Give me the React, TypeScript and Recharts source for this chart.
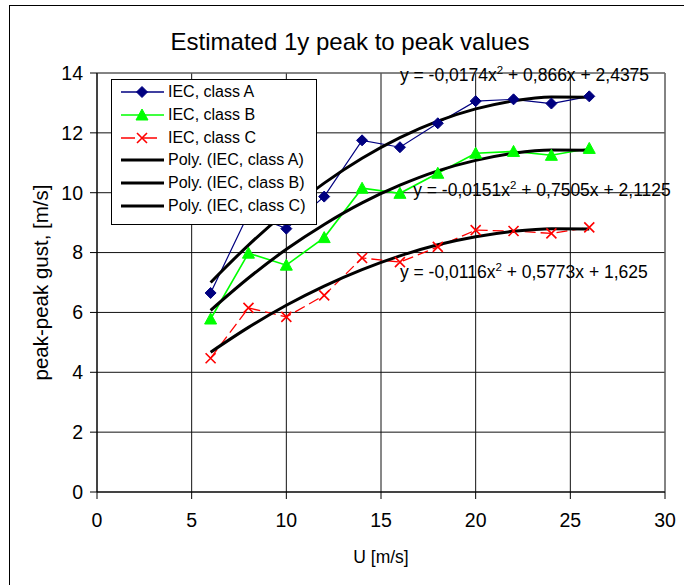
import React from 'react';
import {
  LineChart, Line, XAxis, YAxis, CartesianGrid, ReferenceLine, ReferenceDot, Label,
} from 'recharts';

const windSpeeds = [6, 8, 10, 12, 14, 16, 18, 20, 22, 24, 26];
const classA = [6.65, 9.3, 8.8, 9.87, 11.75, 11.52, 12.32, 13.06, 13.12, 12.98, 13.22];
const classB = [5.78, 7.98, 7.58, 8.5, 10.15, 9.98, 10.65, 11.32, 11.38, 11.25, 11.48];
const classC = [4.47, 6.15, 5.85, 6.57, 7.82, 7.68, 8.19, 8.75, 8.72, 8.64, 8.84];
const polyA = [7.0, 8.25, 9.36, 10.32, 11.15, 11.84, 12.39, 12.8, 13.07, 13.2, 13.19];
const polyB = [6.07, 7.15, 8.11, 8.94, 9.66, 10.25, 10.73, 11.08, 11.32, 11.43, 11.42];
const polyC = [4.67, 5.5, 6.24, 6.88, 7.43, 7.89, 8.26, 8.53, 8.71, 8.8, 8.79];

const xTicks = [0, 5, 10, 15, 20, 25, 30];
const yTicks = [0, 2, 4, 6, 8, 10, 12, 14];

const seriesNames = [
  'IEC, class A', 'IEC, class B', 'IEC, class C',
  'Poly. (IEC, class A)', 'Poly. (IEC, class B)', 'Poly. (IEC, class C)',
];

// trendline equations: [before superscript, after superscript], anchor in data coords
const equations = [
  { pre: 'y = -0,0174x', post: ' + 0,866x + 2,4375', x: 16, y: 13.93 },
  { pre: 'y = -0,0151x', post: ' + 0,7505x + 2,1125', x: 16.7, y: 10.09 },
  { pre: 'y = -0,0116x', post: ' + 0,5773x + 1,625', x: 16, y: 7.35 },
];

const data = windSpeeds.map((u, i) => ({
  u, a: classA[i], b: classB[i], c: classC[i], pa: polyA[i], pb: polyB[i], pc: polyC[i],
}));

const FONT = '"Liberation Sans", Arial, sans-serif';
const BLUE = '#000080';
const GREEN = '#00FF00';
const RED = '#FF0000';

const Diamond = ({ cx, cy }: { cx: number; cy: number }) => (
  <path d={`M${cx},${cy - 5.5}L${cx + 5.5},${cy}L${cx},${cy + 5.5}L${cx - 5.5},${cy}Z`} fill={BLUE} stroke={BLUE} />
);
const Triangle = ({ cx, cy }: { cx: number; cy: number }) => (
  <path d={`M${cx},${cy - 6}L${cx + 6},${cy + 5}L${cx - 6},${cy + 5}Z`} fill={GREEN} stroke={GREEN} />
);
const Cross = ({ cx, cy }: { cx: number; cy: number }) => (
  <path d={`M${cx - 5},${cy - 5}L${cx + 5},${cy + 5}M${cx + 5},${cy - 5}L${cx - 5},${cy + 5}`}
    stroke={RED} strokeWidth={1.6} fill="none" strokeDasharray="none" />
);

const dotFn = (Shape: any) => (p: any) => <Shape key={`d-${p.index}`} cx={p.cx} cy={p.cy} />;

const EqText = ({ viewBox, pre, post }: any) => (
  <text x={viewBox.x} y={viewBox.y + 6} fontFamily={FONT} fontSize={17.5} fill="#000">
    {pre}
    <tspan fontSize={11.5} dy={-7}>2</tspan>
    <tspan dy={7}>{post}</tspan>
  </text>
);

const YTitle = ({ viewBox }: any) => (
  <text
    x={40.5}
    y={viewBox.y + viewBox.height / 2}
    transform={`rotate(-90 40.5 ${viewBox.y + viewBox.height / 2})`}
    textAnchor="middle"
    dominantBaseline="central"
    fontFamily={FONT}
    fontSize={20.5}
    fill="#000"
  >
    peak-peak gust, [m/s]
  </text>
);

function LegendBox() {
  const marks = [
    <Diamond cx={22} cy={11} />,
    <Triangle cx={22} cy={11} />,
    <Cross cx={22} cy={11} />,
  ];
  const strokes = [BLUE, GREEN, RED];
  return (
    <div style={{
      position: 'absolute', left: 111, top: 79, width: 204, height: 144,
      border: '1px solid #000', background: '#fff', fontFamily: FONT, fontSize: 16,
    }}>
      {seriesNames.map((name, i) => (
        <div key={name} style={{ position: 'absolute', left: 8, top: 1 + i * 22.8, height: 22, display: 'flex', alignItems: 'center' }}>
          <svg width={46} height={22} style={{ display: 'block' }}>
            {i < 3 ? (
              <>
                <line x1={1} y1={11} x2={44} y2={11} stroke={strokes[i]} strokeWidth={1.5}
                  strokeDasharray={i === 2 ? '14 8' : undefined} />
                {marks[i]}
              </>
            ) : (
              <line x1={1} y1={11} x2={44} y2={11} stroke="#000" strokeWidth={3} />
            )}
          </svg>
          <span style={{ marginLeft: 2, whiteSpace: 'nowrap' }}>{name}</span>
        </div>
      ))}
    </div>
  );
}

export default function App() {
  return (
    <div style={{ position: 'absolute', left: 0, top: 0, width: 684, height: 585, overflow: 'hidden', background: '#fff' }}>
      <div style={{ position: 'absolute', left: 9, top: 5, width: 700, height: 600, borderLeft: '1px solid #000', borderTop: '1px solid #000' }} />
      <div style={{
        position: 'absolute', left: 0, width: 700, top: 28, textAlign: 'center',
        fontFamily: FONT, fontSize: 24, color: '#000', whiteSpace: 'nowrap',
      }}>
        Estimated 1y peak to peak values
      </div>
      <div style={{ position: 'absolute', left: 0, top: 0 }}>
        <LineChart width={684} height={585} data={data} margin={{ top: 73, right: 19, bottom: 0, left: 0 }}>
          <CartesianGrid stroke="#111" strokeWidth={1} />
          <XAxis
            type="number" dataKey="u" domain={[0, 30]} ticks={xTicks} height={93}
            axisLine={{ stroke: '#000' }} tickLine={{ stroke: '#000' }} tickSize={7} tickMargin={14}
            tick={{ fontSize: 19.5, fill: '#000', fontFamily: FONT }} interval={0}
          >
            <Label value="U [m/s]" position="insideBottom" offset={22}
              style={{ fontSize: 17.5, fill: '#000', fontFamily: FONT }} />
          </XAxis>
          <YAxis
            type="number" domain={[0, 14]} ticks={yTicks} width={97}
            axisLine={{ stroke: '#000' }} tickLine={{ stroke: '#000' }} tickSize={7} tickMargin={7}
            tick={{ fontSize: 19.5, fill: '#000', fontFamily: FONT }} interval={0}
          >
            <Label content={<YTitle />} />
          </YAxis>
          <ReferenceLine x={30} stroke="#808080" />
          <ReferenceLine y={14} stroke="#808080" />
          <Line dataKey="a" stroke={BLUE} strokeWidth={1.2} dot={dotFn(Diamond)} activeDot={false} isAnimationActive={false} />
          <Line dataKey="b" stroke={GREEN} strokeWidth={1.6} dot={dotFn(Triangle)} activeDot={false} isAnimationActive={false} />
          <Line dataKey="c" stroke={RED} strokeWidth={1.3} strokeDasharray="11 5" dot={dotFn(Cross)} activeDot={false} isAnimationActive={false} />
          <Line dataKey="pa" type="monotone" stroke="#000" strokeWidth={3} dot={false} activeDot={false} isAnimationActive={false} />
          <Line dataKey="pb" type="monotone" stroke="#000" strokeWidth={3} dot={false} activeDot={false} isAnimationActive={false} />
          <Line dataKey="pc" type="monotone" stroke="#000" strokeWidth={3} dot={false} activeDot={false} isAnimationActive={false} />
          {equations.map((eq, i) => (
            <ReferenceDot key={i} x={eq.x} y={eq.y} r={0} stroke="none" fill="none"
              label={(p: any) => <EqText viewBox={p.viewBox} pre={eq.pre} post={eq.post} />} />
          ))}
        </LineChart>
      </div>
      <LegendBox />
    </div>
  );
}
